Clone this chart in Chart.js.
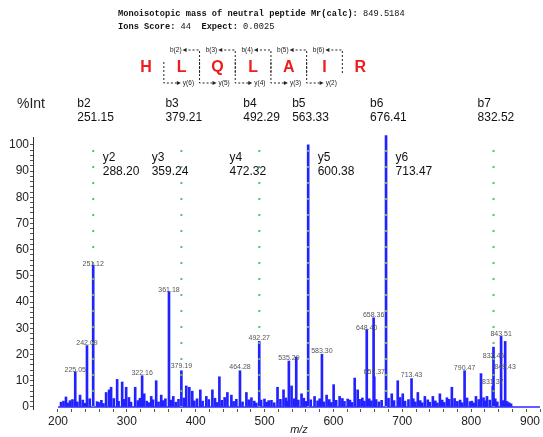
<!DOCTYPE html>
<html lang="en">
<head>
<meta charset="UTF-8">
<title>MS/MS spectrum</title>
<script src="https://cdn.jsdelivr.net/npm/chart.js"></script>
<style>
    html, body { margin: 0; padding: 0; background: #ffffff; }
    #box { width: 543px; height: 437px; }
</style>
</head>
<body>
<div id="box"><canvas id="espectro"></canvas></div>

<script>
// peptide and fragment ions
var peptide = ['H', 'L', 'Q', 'L', 'A', 'I', 'R'];
var bFragments = [2, 3, 4, 5, 6];
var yFragments = [6, 5, 4, 3, 2];

var bIonNames = ['b2', 'b3', 'b4', 'b5', 'b6', 'b7'];
var bIonMz = [251.15, 379.21, 492.29, 563.33, 676.41, 832.52];
var yIonNames = ['y2', 'y3', 'y4', 'y5', 'y6'];
var yIonMz = [288.20, 359.24, 472.32, 600.38, 713.47];

// peaks (m/z, %Int)
var peakMz = [225.05, 242.09, 251.12, 322.16, 361.18, 379.19, 464.28, 492.27, 535.29, 546.0,
    563.33, 583.30, 648.40, 658.36, 659.37, 676.41, 713.43, 790.47, 814.3, 831.37, 832.46, 843.51, 849.43,
    204.4, 211.6, 217.5, 232.0, 256.8, 269.9, 274.2, 277.1, 285.9, 293.2, 299.0, 312.1, 325.2, 335.4,
    342.6, 349.9, 367.4, 386.3, 390.7, 395.0, 406.7, 415.4, 424.2, 434.4, 446.0, 451.8, 473.6, 480.9,
    499.9, 510.0, 518.8, 527.5, 539.2, 553.7, 572.6, 590.1, 600.3, 609.0, 620.7, 630.9, 635.2, 684.7,
    693.4, 700.7, 722.6, 732.8, 744.4, 754.6, 764.8, 772.0, 798.3, 807.0, 823.0,
    208, 214, 221, 228, 236, 239, 246, 259, 263, 266, 281, 288, 296, 303, 306, 316, 319, 329, 332, 338,
    346, 353, 356, 364, 371, 375, 383, 398, 402, 410, 419, 428, 431, 438, 442, 455, 459, 468, 477, 485,
    488, 495, 503, 506, 514, 523, 531, 534, 543, 549, 557, 560, 567, 577, 580, 586, 594, 597, 604, 613,
    616, 624, 627, 638, 642, 645, 652, 655, 662, 666, 670, 680, 688, 697, 704, 709, 716, 719, 726, 729,
    737, 740, 748, 751, 758, 761, 768, 776, 780, 784, 787, 794, 801, 804, 811, 818, 820, 827, 835, 838,
    846, 852, 855, 858];
var peakInt = [13.4, 23.4, 54.2, 11.9, 44.0, 13.8, 13.8, 25.0, 17.5, 19.0,
    100, 20.1, 29.5, 34.0, 11.5, 103.5, 10.8, 13.8, 12.7, 8.0, 22.8, 26.9, 25.0,
    1.8, 3.8, 2.4, 4.5, 2.0, 5.5, 6.5, 7.5, 10.5, 9.5, 7.5, 7.5, 5.0, 4.0,
    10.0, 4.5, 4.0, 8.0, 7.5, 6.0, 6.5, 4.0, 6.5, 11.5, 5.5, 4.5, 5.5, 3.5,
    3.0, 2.5, 7.5, 6.5, 8.0, 5.0, 4.0, 4.5, 8.5, 4.0, 3.0, 11.0, 6.5, 5.0,
    10.0, 5.0, 5.5, 4.0, 4.0, 5.0, 3.5, 7.5, 2.0, 4.0, 4.0,
    2.2, 1.5, 2.8, 1.9, 2.6, 1.4, 3.1, 1.7, 2.5, 1.3, 3.2, 2.1, 2.9, 3.6, 1.8, 2.4, 3.3, 2.2, 1.6, 2.7,
    1.9, 2.4, 3.1, 2.6, 1.8, 2.9, 3.4, 2.3, 3.1, 2.2, 2.8, 3.3, 1.7, 2.5, 3.6, 2.1, 2.9, 1.9, 2.7, 2.2,
    1.5, 2.6, 1.8, 2.4, 1.6, 2.9, 3.4, 2.2, 3.1, 2.6, 3.3, 2.1, 2.7, 2.3, 3.1, 1.9, 2.8, 1.7, 2.5, 3.2,
    2.1, 2.6, 1.7, 2.9, 3.4, 2.2, 3.1, 2.3, 2.8, 1.9, 2.5, 3.3, 2.4, 3.6, 2.2, 2.8, 3.1, 1.9, 2.4, 1.6,
    2.7, 1.8, 2.3, 1.5, 2.6, 1.7, 2.9, 3.2, 2.1, 2.6, 1.6, 3.4, 2.2, 1.5, 2.8, 3.5, 2.3, 2.6, 3.1, 1.9,
    2.4, 2.1, 1.6, 1.2];

// small peak labels and the height where they sit
var labelMz = [225.05, 242.09, 251.12, 322.16, 361.18, 379.19, 464.28, 492.27, 535.29, 583.30,
    648.40, 658.36, 659.37, 713.43, 790.47, 831.37, 832.46, 843.51, 849.43];
var labelLevel = [12.7, 23.1, 53.0, 11.6, 43.3, 14.2, 13.8, 25.0, 17.2, 19.8,
    28.7, 33.6, 11.9, 10.8, 13.4, 8.2, 17.9, 26.5, 13.8];

var xTicks = [200, 300, 400, 500, 600, 700, 800, 900];
var yTicks = [0, 10, 20, 30, 40, 50, 60, 70, 80, 90, 100];

var X_MIN = 163.7, X_MAX = 900, Y_MIN = -0.8, Y_MAX = 103;

var barras = [];
for (var i = 0; i < peakMz.length; i++) {
    barras.push({ x: peakMz[i], y: peakInt[i] });
}

var datasets = [];
// dotted b-ion lines
for (var j = 0; j < bIonMz.length; j++) {
    datasets.push({
        type: 'line',
        data: [{ x: bIonMz[j], y: 98 }, { x: bIonMz[j], y: 0 }],
        borderColor: '#5cc25c',
        borderWidth: 2,
        borderDash: [2, 14],
        pointRadius: 0,
        order: 0
    });
}
datasets.push({
    type: 'bar',
    data: barras,
    backgroundColor: '#2222ff',
    barThickness: 2,
    clip: false,
    order: 1
});
datasets.push({
    type: 'line',
    data: [{ x: 200, y: 0 }, { x: 900, y: 0 }],
    borderColor: '#2a2aff',
    borderWidth: 1.5,
    pointRadius: 0,
    order: 2
});

function escrever(ctx, partes, x, y) {
    partes.forEach(function (p) {
        ctx.font = (p[1] ? 'bold ' : '') + '8.7px "Liberation Mono"';
        ctx.fillText(p[0], x, y);
        x += ctx.measureText(p[0]).width;
    });
}

function seta(ctx, x, y, dir) {
    ctx.beginPath();
    ctx.moveTo(x, y);
    ctx.lineTo(x - 4 * dir, y - 2);
    ctx.lineTo(x - 4 * dir, y + 2);
    ctx.closePath();
    ctx.fill();
}

var textos = {
    id: 'textos',
    afterDraw: function (chart) {
        var ctx = chart.ctx;
        var sx = chart.scales.x, sy = chart.scales.y;
        ctx.save();

        // header
        ctx.fillStyle = '#111';
        ctx.textAlign = 'left';
        ctx.textBaseline = 'middle';
        escrever(ctx, [['Monoisotopic mass of neutral peptide Mr(calc):', true], [' 849.5184', false]], 118, 14);
        escrever(ctx, [['Ions Score:', true], [' 44  ', false], ['Expect:', true], [' 0.0025', false]], 118, 27);

        // sequence with fragmentation marks
        var x0 = 146, passo = 35.7;
        ctx.font = 'bold 16px "Liberation Sans"';
        ctx.fillStyle = '#ee1c1c';
        ctx.textAlign = 'center';
        peptide.forEach(function (aa, k) {
            ctx.fillText(aa, x0 + k * passo, 68);
        });

        ctx.strokeStyle = '#222';
        ctx.fillStyle = '#222';
        ctx.lineWidth = 1;
        ctx.font = '6.5px "Liberation Sans"';
        bFragments.forEach(function (n) {
            var sep = x0 + (n - 0.5) * passo;
            ctx.setLineDash([2, 2]);
            ctx.beginPath();
            ctx.moveTo(sep, 73); ctx.lineTo(sep, 50); ctx.lineTo(sep - 13, 50);
            ctx.stroke();
            ctx.setLineDash([]);
            seta(ctx, sep - 17, 50, -1);
            ctx.textAlign = 'right';
            ctx.fillText('b(' + n + ')', sep - 18, 50);
        });
        yFragments.forEach(function (n) {
            var sep = x0 + (peptide.length - n - 0.5) * passo;
            ctx.setLineDash([2, 2]);
            ctx.beginPath();
            ctx.moveTo(sep, 62); ctx.lineTo(sep, 83); ctx.lineTo(sep + 13, 83);
            ctx.stroke();
            ctx.setLineDash([]);
            seta(ctx, sep + 17, 83, 1);
            ctx.textAlign = 'left';
            ctx.fillText('y(' + n + ')', sep + 19, 83);
        });

        // axis titles
        ctx.fillStyle = '#222';
        ctx.textAlign = 'left';
        ctx.font = '14px "Liberation Sans"';
        ctx.fillText('%Int', 17, 104);
        ctx.textAlign = 'center';
        ctx.font = 'italic 11px "Liberation Sans"';
        ctx.fillText('m/z', sx.getPixelForValue(550), 430);

        // ion labels
        ctx.textAlign = 'left';
        ctx.font = '12px "Liberation Sans"';
        ctx.fillStyle = '#111';
        bIonMz.forEach(function (mz, k) {
            var px = sx.getPixelForValue(mz) - 16;
            ctx.fillText(bIonNames[k], px, 104);
            ctx.fillText(mz.toFixed(2), px, 118);
        });
        yIonMz.forEach(function (mz, k) {
            var px = sx.getPixelForValue(mz) - 16;
            ctx.fillText(yIonNames[k], px, 158);
            ctx.fillText(mz.toFixed(2), px, 172);
        });

        // peak labels
        ctx.font = '7px "Liberation Sans"';
        ctx.fillStyle = '#555';
        ctx.textAlign = 'center';
        ctx.textBaseline = 'bottom';
        labelMz.forEach(function (mz, k) {
            ctx.fillText(mz.toFixed(2), sx.getPixelForValue(mz), sy.getPixelForValue(labelLevel[k]));
        });
        ctx.restore();
    }
};

new Chart(document.getElementById('espectro'), {
    type: 'bar',
    data: { datasets: datasets },
    options: {
        responsive: true,
        maintainAspectRatio: false,
        devicePixelRatio: 1,
        animation: false,
        layout: { padding: { left: 0, right: 3, top: 137, bottom: 0 } },
        plugins: { legend: { display: false }, tooltip: { enabled: false } },
        scales: {
            x: {
                type: 'linear',
                offset: false,
                min: X_MIN,
                max: X_MAX,
                afterBuildTicks: function (scale) {
                    var t = [{ value: X_MIN }];
                    for (var v = 200; v <= 900; v += 20) t.push({ value: v });
                    scale.ticks = t;
                },
                afterFit: function (scale) { scale.height = 28; },
                border: { display: false },
                grid: {
                    offset: false,
                    drawOnChartArea: false,
                    tickLength: 3,
                    tickColor: function (c) { return c.tick && c.tick.value < 200 ? 'rgba(0,0,0,0)' : '#555'; }
                },
                ticks: {
                    autoSkip: false,
                    maxRotation: 0,
                    align: 'inner',
                    padding: 2,
                    color: '#222',
                    font: { family: 'Liberation Sans', size: 12 },
                    callback: function (v) { return xTicks.indexOf(v) >= 0 ? String(v) : ''; }
                }
            },
            y: {
                min: Y_MIN,
                max: Y_MAX,
                afterBuildTicks: function (scale) {
                    var t = [];
                    for (var v = 0; v <= 100; v += 2) t.push({ value: v });
                    scale.ticks = t;
                },
                afterFit: function (scale) { scale.width = 33; },
                border: { display: true, color: '#333' },
                grid: {
                    drawOnChartArea: false,
                    tickLength: 3,
                    tickColor: '#555'
                },
                ticks: {
                    autoSkip: false,
                    padding: 1,
                    color: '#222',
                    font: { family: 'Liberation Sans', size: 12 },
                    callback: function (v) { return yTicks.indexOf(v) >= 0 ? String(v) : ''; }
                }
            }
        }
    },
    plugins: [textos]
});
</script>
</body>
</html>
